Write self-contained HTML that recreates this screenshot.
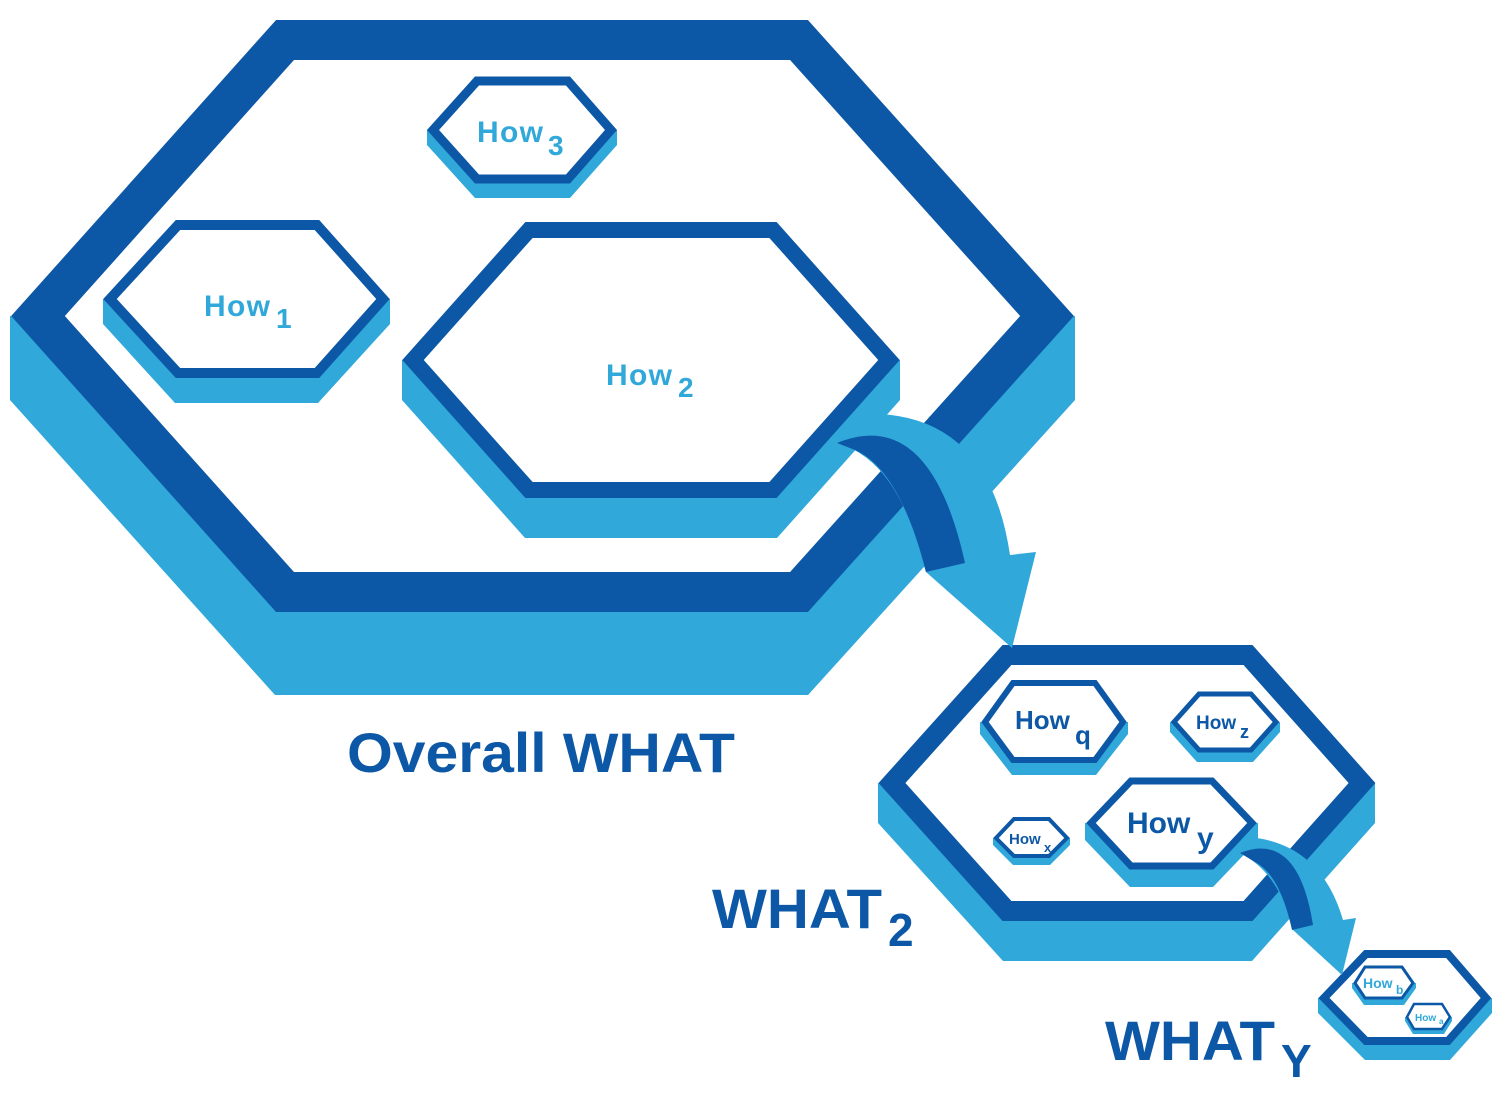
<!DOCTYPE html>
<html><head><meta charset="utf-8"><style>
html,body{margin:0;padding:0;background:#fff;width:1500px;height:1100px;overflow:hidden}
svg{display:block}
text{font-family:"Liberation Sans","DejaVu Sans",sans-serif;font-weight:bold}
</style></head><body>
<svg width="1500" height="1100" viewBox="0 0 1500 1100" xmlns="http://www.w3.org/2000/svg">
<g stroke-linejoin="miter">
<polygon fill="#31a8da" points="10,316 10,400 275,695 808,695 1075,400 1075,316"/>
<polygon fill="#fff" stroke="#0d58a6" stroke-width="40" points="285,40 799,40 1047,316 799,592 285,592 38,316"/>
<polygon fill="#31a8da" points="103,299 103,324 175,403 318,403 390,324 390,299"/>
<polygon fill="#fff" stroke="#0d58a6" stroke-width="10" points="178,225 317,225 383,299 317,373 178,373 110,299"/>
<polygon fill="#31a8da" points="427,130 427,145 475,198 570,198 617,145 617,130"/>
<polygon fill="#fff" stroke="#0d58a6" stroke-width="9" points="477,81 568,81 611,130 568,179 477,179 433,130"/>
<polygon fill="#31a8da" points="402,360 402,400 525,538 777,538 900,400 900,360"/>
<polygon fill="#fff" stroke="#0d58a6" stroke-width="16" points="529,230 773,230 889,360 773,490 529,490 413,360"/>
<polygon fill="#31a8da" points="878,783 878,823 1003,961 1252,961 1375,823 1375,783"/>
<polygon fill="#fff" stroke="#0d58a6" stroke-width="20" points="1007,655 1248,655 1362,783 1248,911 1007,911 892,783"/>
<polygon fill="#31a8da" points="980,722 980,734 1012,775 1096,775 1128,734 1128,722"/>
<polygon fill="#fff" stroke="#0d58a6" stroke-width="6" points="1013,683 1095,683 1123,722 1095,760 1013,760 985,722"/>
<polygon fill="#31a8da" points="1170,722 1170,732 1197,762 1253,762 1280,732 1280,722"/>
<polygon fill="#fff" stroke="#0d58a6" stroke-width="5" points="1199,694 1251,694 1276,722 1251,750 1199,750 1174,722"/>
<polygon fill="#31a8da" points="993,838 993,845 1013,865 1050,865 1070,845 1070,838"/>
<polygon fill="#fff" stroke="#0d58a6" stroke-width="4" points="1014,819 1049,819 1067,838 1049,856 1014,856 996,838"/>
<polygon fill="#31a8da" points="1085,823 1085,840 1130,887 1213,887 1258,840 1258,823"/>
<polygon fill="#fff" stroke="#0d58a6" stroke-width="7" points="1131,781 1212,781 1252,823 1212,866 1131,866 1091,823"/>
<polygon fill="#31a8da" points="1318,998 1318,1013 1365,1060 1450,1060 1492,1013 1492,998"/>
<polygon fill="#fff" stroke="#0d58a6" stroke-width="8" points="1366,954 1448,954 1486,998 1448,1041 1366,1041 1324,998"/>
<polygon fill="#31a8da" points="1352,983 1352,988 1364,1005 1404,1005 1416,988 1416,983"/>
<polygon fill="#fff" stroke="#0d58a6" stroke-width="3" points="1365,967 1402,967 1413,983 1402,998 1365,998 1355,983"/>
<polygon fill="#31a8da" points="1405,1017 1405,1021 1413,1034 1444,1034 1452,1021 1452,1017"/>
<polygon fill="#fff" stroke="#0d58a6" stroke-width="2.5" points="1414,1004 1442,1004 1450,1017 1442,1029 1414,1029 1407,1017"/>
</g>
<path fill="#31a8da" d="M 880,414 Q 990,420 1010,555 L 1036,552 L 1012,648 L 926,572 L 905,510 Q 880,455 837,443 Q 852,422 880,414 Z"/>
<path fill="#0d58a6" d="M 837,443 Q 930,405 965,563 L 926,572 Q 900,470 855,450 Z"/>
<path fill="#31a8da" d="M 1257,838 Q 1322,848 1343,920 L 1356,918 L 1342,975 L 1293,930 L 1285,905 Q 1270,868 1240,853 Q 1246,840 1257,838 Z"/>
<path fill="#0d58a6" d="M 1240,853 Q 1298,830 1313,925 L 1292,930 Q 1280,875 1255,862 Z"/>
<g fill="#31a8da">
<text x="204" y="316" font-size="30" textLength="66">How</text><text x="276" y="328" font-size="28">1</text>
<text x="477" y="142" font-size="30" textLength="66">How</text><text x="548" y="155" font-size="28">3</text>
<text x="606" y="385" font-size="30" textLength="66">How</text><text x="678" y="397" font-size="28">2</text>
<text x="1363" y="988" font-size="14">How</text><text x="1396" y="994" font-size="12">b</text>
<text x="1415" y="1021" font-size="10">How</text><text x="1439" y="1024" font-size="8">a</text>
</g>
<g fill="#0d58a6">
<text x="347" y="772" font-size="56" textLength="388" lengthAdjust="spacingAndGlyphs">Overall WHAT</text>
<text x="712" y="928" font-size="56" textLength="170" lengthAdjust="spacingAndGlyphs">WHAT</text><text x="888" y="946" font-size="46">2</text>
<text x="1105" y="1060" font-size="56" textLength="170" lengthAdjust="spacingAndGlyphs">WHAT</text><text x="1281" y="1077" font-size="46">Y</text>
<text x="1015" y="729" font-size="26">How</text><text x="1075" y="744" font-size="26">q</text>
<text x="1196" y="729" font-size="19">How</text><text x="1240" y="738" font-size="18">z</text>
<text x="1009" y="844" font-size="15">How</text><text x="1044" y="852" font-size="13">x</text>
<text x="1127" y="833" font-size="30">How</text><text x="1197" y="848" font-size="30">y</text>
</g>
</svg>
</body></html>
